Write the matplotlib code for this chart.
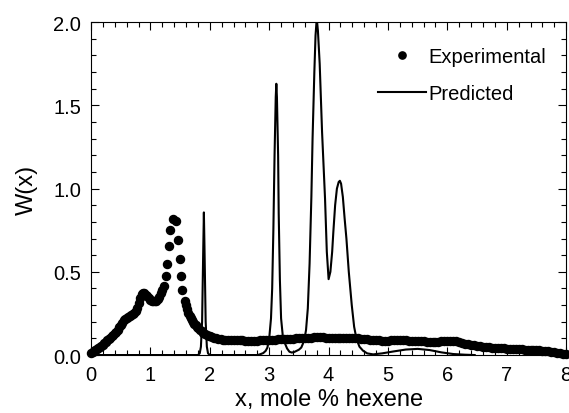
import matplotlib
matplotlib.use("Agg")
from matplotlib import pyplot as plt
from matplotlib.ticker import MultipleLocator

plt.rcParams['font.family'] = ['Liberation Sans', 'DejaVu Sans']

# experimental W(x)
exp_x = [0.00, 0.025, 0.05, 0.075, 0.10, 0.125, 0.15, 0.175, 0.20, 0.225,
         0.25, 0.275, 0.30, 0.325, 0.35, 0.375, 0.40, 0.425, 0.45, 0.475,
         0.50, 0.525, 0.55, 0.575, 0.60, 0.625, 0.65, 0.675, 0.70, 0.725,
         0.75, 0.775, 0.80, 0.825, 0.85, 0.875, 0.90, 0.925, 0.95, 0.975,
         1.00, 1.025, 1.05, 1.075, 1.10, 1.125, 1.15, 1.175, 1.20,
         1.23, 1.257, 1.285, 1.31, 1.335, 1.375, 1.425, 1.46, 1.49, 1.51, 1.54, 1.58,
         1.60, 1.62, 1.64, 1.66, 1.68, 1.70, 1.72, 1.74, 1.76, 1.78, 1.80,
         1.83, 1.86, 1.89, 1.92, 1.95, 1.98, 2.01, 2.04, 2.07, 2.10, 2.14, 2.18, 2.22,
         2.25, 2.30, 2.35, 2.40, 2.45, 2.50, 2.55, 2.60, 2.65, 2.70,
         2.75, 2.80, 2.85, 2.90, 2.95, 3.00, 3.05, 3.10, 3.15, 3.20,
         3.25, 3.30, 3.35, 3.40, 3.45, 3.50, 3.55, 3.60, 3.65, 3.70,
         3.75, 3.80, 3.85, 3.90, 3.95, 4.00, 4.05, 4.10, 4.15, 4.20,
         4.25, 4.30, 4.35, 4.40, 4.45, 4.50, 4.55, 4.60, 4.65, 4.70,
         4.75, 4.80, 4.85, 4.90, 4.95, 5.00, 5.05, 5.10, 5.15, 5.20,
         5.25, 5.30, 5.35, 5.40, 5.45, 5.50, 5.55, 5.60, 5.65, 5.70,
         5.75, 5.80, 5.85, 5.90, 5.95, 6.00, 6.05, 6.10, 6.15, 6.20,
         6.25, 6.30, 6.35, 6.40, 6.45, 6.50, 6.55, 6.60, 6.65, 6.70,
         6.75, 6.80, 6.85, 6.90, 6.95, 7.00, 7.05, 7.10, 7.15, 7.20,
         7.25, 7.30, 7.35, 7.40, 7.45, 7.50, 7.55, 7.60, 7.65, 7.70,
         7.75, 7.80, 7.85, 7.90, 7.95, 8.00]
exp_w = [0.015, 0.020, 0.025, 0.030, 0.036, 0.042, 0.048, 0.055, 0.062, 0.070,
         0.078, 0.088, 0.097, 0.105, 0.112, 0.120, 0.130, 0.140, 0.152, 0.166,
         0.180, 0.195, 0.208, 0.218, 0.225, 0.230, 0.235, 0.240, 0.245, 0.252,
         0.262, 0.280, 0.310, 0.345, 0.365, 0.372, 0.370, 0.362, 0.352, 0.340,
         0.330, 0.325, 0.322, 0.322, 0.325, 0.335, 0.350, 0.370, 0.390,
         0.416, 0.475, 0.550, 0.653, 0.750, 0.817, 0.805, 0.690, 0.575, 0.475, 0.390, 0.325,
         0.300, 0.275, 0.255, 0.237, 0.222, 0.210, 0.198, 0.188, 0.178, 0.170, 0.162,
         0.152, 0.143, 0.135, 0.128, 0.122, 0.117, 0.112, 0.108, 0.104, 0.100, 0.097, 0.094, 0.092,
         0.091, 0.090, 0.090, 0.089, 0.089, 0.088, 0.088, 0.087, 0.087, 0.086,
         0.086, 0.087, 0.088, 0.089, 0.090, 0.091, 0.092, 0.093, 0.094, 0.095,
         0.096, 0.097, 0.098, 0.099, 0.100, 0.101, 0.102, 0.103, 0.104, 0.105,
         0.106, 0.106, 0.106, 0.106, 0.105, 0.104, 0.103, 0.101, 0.100, 0.101,
         0.103, 0.104, 0.104, 0.103, 0.102, 0.100, 0.098, 0.096, 0.094, 0.092,
         0.090, 0.089, 0.088, 0.087, 0.087, 0.087, 0.088, 0.089, 0.090, 0.090,
         0.089, 0.088, 0.087, 0.086, 0.085, 0.084, 0.083, 0.082, 0.081, 0.080,
         0.080, 0.080, 0.081, 0.082, 0.083, 0.084, 0.085, 0.085, 0.083, 0.079,
         0.074, 0.069, 0.065, 0.061, 0.058, 0.055, 0.053, 0.051, 0.049, 0.047,
         0.045, 0.043, 0.042, 0.041, 0.040, 0.039, 0.038, 0.037, 0.036, 0.035,
         0.034, 0.033, 0.032, 0.031, 0.030, 0.029, 0.028, 0.027, 0.025, 0.023,
         0.021, 0.018, 0.015, 0.011, 0.008, 0.005]

# predicted W(x)
pred_x = [0.00, 1.80, 1.83, 1.85, 1.87, 1.89, 1.90, 1.91, 1.93, 1.95, 1.97, 2.00,
          2.80, 2.85, 2.90, 2.94, 2.97, 3.00, 3.03, 3.05, 3.07, 3.09, 3.11, 3.12,
          3.13, 3.15, 3.16, 3.18, 3.20, 3.23, 3.27, 3.30, 3.34, 3.38, 3.42, 3.46,
          3.50, 3.54, 3.57, 3.60, 3.62, 3.65, 3.68, 3.71, 3.73, 3.76, 3.78, 3.80,
          3.82, 3.85, 3.89, 3.94, 3.97, 4.00, 4.03, 4.06, 4.08, 4.11, 4.14, 4.17,
          4.19, 4.21, 4.24, 4.27, 4.30, 4.34, 4.39, 4.43, 4.47, 4.52, 4.58, 4.65,
          4.75, 4.90, 5.10, 5.30, 5.50, 5.70, 5.90, 6.10, 6.30, 6.46]
pred_w = [0.0, 0.0, 0.01, 0.05, 0.20, 0.65, 0.857, 0.65, 0.20, 0.05, 0.01, 0.0,
          0.0, 0.005, 0.012, 0.025, 0.045, 0.10, 0.22, 0.40, 0.75, 1.20, 1.55, 1.63,
          1.55, 1.20, 0.85, 0.45, 0.22, 0.11, 0.066, 0.040, 0.020, 0.015, 0.018, 0.025,
          0.032, 0.045, 0.07, 0.11, 0.15, 0.28, 0.55, 0.95, 1.30, 1.70, 1.92, 2.02,
          1.95, 1.75, 1.34, 0.94, 0.62, 0.456, 0.50, 0.62, 0.74, 0.90, 1.00, 1.04,
          1.047, 1.03, 0.95, 0.82, 0.70, 0.50, 0.30, 0.17, 0.096, 0.05, 0.026, 0.010,
          0.004, 0.010, 0.022, 0.033, 0.037, 0.030, 0.016, 0.006, 0.002, 0.0]

fig = plt.figure(figsize=(5.69, 4.14), dpi=100)
ax = fig.add_axes([0.160, 0.140, 0.835, 0.804])

ax.plot(pred_x, pred_w, color='black', linewidth=1.5, label='Predicted', zorder=2)
ax.plot(exp_x, exp_w, linestyle='none', marker='o', markersize=5.8,
        color='black', label='Experimental', zorder=3, clip_on=False)

ax.set_xlim(0, 8)
ax.set_ylim(0, 2.0)
ax.xaxis.set_major_locator(MultipleLocator(1))
ax.xaxis.set_minor_locator(MultipleLocator(0.2))
ax.yaxis.set_major_locator(MultipleLocator(0.5))
ax.yaxis.set_minor_locator(MultipleLocator(0.1))
ax.tick_params(which='both', direction='in', top=True, right=True, labelsize=14.5, width=0.8)
ax.tick_params(which='major', length=6, pad=7)
ax.tick_params(which='minor', length=3.5)
for s in ax.spines.values():
    s.set_linewidth(0.8)

ax.set_xlabel('x, mole % hexene', fontsize=17, labelpad=3)
ax.set_ylabel('W(x)', fontsize=17, labelpad=11)

handles, labels = ax.get_legend_handles_labels()
ax.legend(handles[::-1], labels[::-1], loc='upper right', bbox_to_anchor=(0.975, 0.95),
          frameon=False, fontsize=14.5, handlelength=2.4, handletextpad=0.12,
          labelspacing=0.88, borderaxespad=0, markerscale=0.9)

plt.savefig('out.png', dpi=100)
